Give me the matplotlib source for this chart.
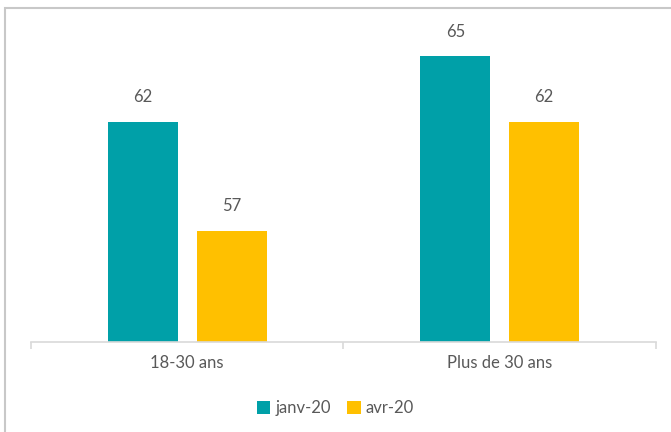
import numpy as np
import matplotlib.pyplot as plt
from matplotlib.patches import Rectangle

# Data
categories = ['18-30 ans', 'Plus de 30 ans']
series = ['janv-20', 'avr-20']
janv = [62, 65]
avr = [57, 62]
colors = ['#00A0A8', '#FFC000']

plt.rcParams['font.family'] = ['Lato', 'DejaVu Sans']
txt = '#595959'

fig = plt.figure(figsize=(6.71, 4.32), dpi=100)
ax = fig.add_axes([0.0462, 0.2083, 0.9314, 0.757])

x = np.arange(len(categories))
w = 0.224
off = 0.142
b1 = ax.bar(x - off, janv, w, color=colors[0], label=series[0])
b2 = ax.bar(x + off, avr, w, color=colors[1], label=series[1])

for bars, vals in ((b1, janv), (b2, avr)):
    for r, v in zip(bars, vals):
        ax.text(r.get_x() + r.get_width() / 2, v + 0.75, str(v),
                ha='center', va='bottom', fontsize=12, color=txt)

ax.set_xlim(-0.5, 1.5)
ax.set_ylim(51.9, 66.9)
ax.set_yticks([])
for s in ['top', 'right', 'left']:
    ax.spines[s].set_visible(False)
ax.spines['bottom'].set_color('#d9d9d9')
ax.spines['bottom'].set_linewidth(1.2)

ax.set_xticks(x)
ax.set_xticklabels(categories, fontsize=12, color=txt)
ax.tick_params(axis='x', length=0, pad=9)
ax.set_xticks([-0.5, 0.5, 1.5], minor=True)
ax.tick_params(axis='x', which='minor', length=5, color='#d9d9d9', width=1.2)

leg = fig.legend(loc='center', bbox_to_anchor=(0.5, 0.055), ncol=2, frameon=False,
                 fontsize=12, handlelength=0.8, handleheight=0.8,
                 handletextpad=0.3, columnspacing=1.0)
for t in leg.get_texts():
    t.set_color(txt)

# outer chart border
fig.patches.append(Rectangle((5 / 671, -0.1), 1.2, (432 - 8) / 432 + 0.1,
                             transform=fig.transFigure, fill=False,
                             edgecolor='#c8c8c8', linewidth=1.5))

fig.savefig('out.png', dpi=100)
